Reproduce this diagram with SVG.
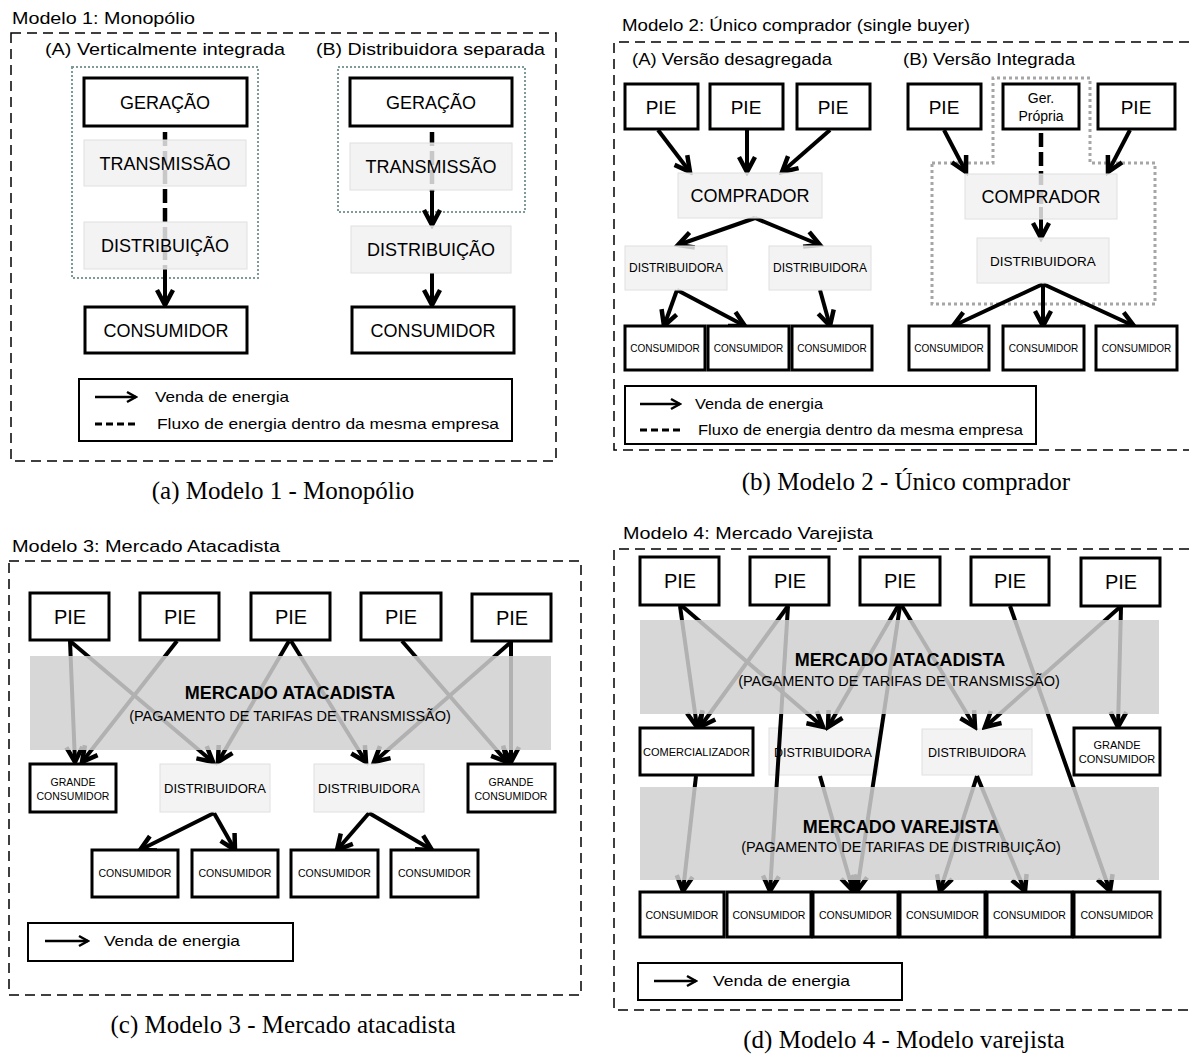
<svg xmlns="http://www.w3.org/2000/svg" width="1189" height="1054" viewBox="0 0 1189 1054">
<defs>
<style>
.t{font-family:"Liberation Sans",Arial,sans-serif;fill:#000}
.c{text-anchor:middle}
.b{font-weight:bold}
.cap{font-family:"Liberation Serif","Times New Roman",serif;font-size:25px;text-anchor:middle;fill:#000}
.box{fill:#fff;stroke:#000;stroke-width:3}
.lbox{fill:rgb(240,240,240);fill-opacity:.83;stroke:#e0e0e0;stroke-width:1}
.band{fill:rgb(208,208,208);fill-opacity:.85}
.leg{fill:#fff;stroke:#000;stroke-width:2}
.outer{fill:none;stroke:#000;stroke-width:1.5;stroke-dasharray:10 6}
.dot1{fill:none;stroke:#7f9a9a;stroke-width:2;stroke-dasharray:2 2}
.dot2{fill:none;stroke:#a6a6a6;stroke-width:3;stroke-dasharray:3 3}
.arr{fill:none;stroke:#000;stroke-width:4;marker-end:url(#ah)}
.dash{fill:none;stroke:#000;stroke-width:4.5;stroke-dasharray:14 5}
.larr{fill:none;stroke:#000;stroke-width:2.5;marker-end:url(#ahs)}
.ldash{fill:none;stroke:#000;stroke-width:3;stroke-dasharray:7 4}
</style>
<marker id="ah" viewBox="0 0 22 22" refX="18" refY="11" markerWidth="22" markerHeight="22" markerUnits="userSpaceOnUse" orient="auto">
<path d="M3,3 L18,11 L3,19" fill="none" stroke="#000" stroke-width="4.5"/>
</marker>
<marker id="ahs" viewBox="0 0 14 14" refX="12" refY="7" markerWidth="14" markerHeight="14" markerUnits="userSpaceOnUse" orient="auto">
<path d="M3,2 L12,7 L3,12" fill="none" stroke="#000" stroke-width="2.5"/>
</marker>
</defs>
<rect width="1189" height="1054" fill="#fff"/>

<!-- Frames and titles -->
<g id="frames">
<rect class="outer" x="11" y="33" width="545" height="428"/>
<path class="outer" d="M1189,42 H614 V450 H1189"/>
<rect class="outer" x="9" y="561" width="572" height="434"/>
<path class="outer" d="M1189,549 H614 V1010 H1189"/>
<rect class="dot1" x="72" y="67" width="186" height="211"/>
<rect class="dot1" x="338" y="67" width="187" height="145"/>
<path class="dot2" d="M932,163 H993 V78 H1090 V163 H1155 V304 H932 Z"/>
</g>
<g id="titles">
<text class="t" x="12" y="24" font-size="16" textLength="183" lengthAdjust="spacingAndGlyphs">Modelo 1: Monopólio</text>
<text class="t" x="45" y="55" font-size="17" textLength="240" lengthAdjust="spacingAndGlyphs">(A) Verticalmente integrada</text>
<text class="t" x="316" y="55" font-size="17" textLength="229" lengthAdjust="spacingAndGlyphs">(B) Distribuidora separada</text>
<text class="t" x="622" y="31" font-size="16" textLength="348" lengthAdjust="spacingAndGlyphs">Modelo 2: Único comprador (single buyer)</text>
<text class="t" x="632" y="65" font-size="17" textLength="200" lengthAdjust="spacingAndGlyphs">(A) Versão desagregada</text>
<text class="t" x="903" y="65" font-size="17" textLength="172" lengthAdjust="spacingAndGlyphs">(B) Versão Integrada</text>
<text class="t" x="12" y="552" font-size="16" textLength="268" lengthAdjust="spacingAndGlyphs">Modelo 3: Mercado Atacadista</text>
<text class="t" x="623" y="539" font-size="16" textLength="250" lengthAdjust="spacingAndGlyphs">Modelo 4: Mercado Varejista</text>
<text class="cap" x="283" y="499">(a) Modelo 1 - Monopólio</text>
<text class="cap" x="906" y="490">(b) Modelo 2 - Único comprador</text>
<text class="cap" x="283" y="1033">(c) Modelo 3 - Mercado atacadista</text>
<text class="cap" x="904" y="1048">(d) Modelo 4 - Modelo varejista</text>
</g>

<!-- Panel 4 light boxes (under connectors) -->
<g id="m4_dist_a"><rect class="lbox" x="769" y="728" width="109" height="47"/><text class="t c" x="823" y="756.5" font-size="12.5">DISTRIBUIDORA</text></g>
<g id="m4_dist_b"><rect class="lbox" x="922" y="729" width="110" height="46"/><text class="t c" x="977" y="756.5" font-size="12.5">DISTRIBUIDORA</text></g>

<!-- Connectors -->
<g id="connectors">
<!-- Model 1 -->
<path class="dash" d="M165,113 V269"/>
<path class="arr" d="M165,269 V305"/>
<path class="dash" d="M432,113 V192"/>
<path class="arr" d="M432,192 V225"/>
<path class="arr" d="M432,273 V305"/>
<!-- Model 2 -->
<path class="arr" d="M658,130 L690,172"/>
<path class="arr" d="M747,130 V172"/>
<path class="arr" d="M830,130 L782,172"/>
<path class="arr" d="M755,218 L678,245"/>
<path class="arr" d="M755,218 L820,245"/>
<path class="arr" d="M677,290 L664,326"/>
<path class="arr" d="M677,290 L745,326"/>
<path class="arr" d="M820,290 L830,326"/>
<path class="arr" d="M944,130 L966,172"/>
<path class="dash" d="M1041,133 V207"/>
<path class="arr" d="M1041,207 V238"/>
<path class="arr" d="M1130,130 L1108,172"/>
<path class="arr" d="M1043,284 L953,326"/>
<path class="arr" d="M1043,284 V326"/>
<path class="arr" d="M1043,284 L1134,326"/>
<!-- Model 3 -->
<path class="arr" d="M70,641 L75,762"/>
<path class="arr" d="M70,641 L213,762"/>
<path class="arr" d="M177,641 L82,762"/>
<path class="arr" d="M289,641 L218,762"/>
<path class="arr" d="M291,641 L366,762"/>
<path class="arr" d="M402,641 L507,762"/>
<path class="arr" d="M511,642 L374,762"/>
<path class="arr" d="M511,642 V762"/>
<path class="arr" d="M214,813 L140,850"/>
<path class="arr" d="M214,813 L235,850"/>
<path class="arr" d="M369,813 L337,850"/>
<path class="arr" d="M369,813 L432,850"/>
<!-- Model 4 -->
<path class="arr" d="M680,606 L697,727"/>
<path class="arr" d="M682,606 L823,727"/>
<path class="arr" d="M788,606 L700,727"/>
<path class="arr" d="M788,606 L770,891"/>
<path class="arr" d="M898,606 L828,727"/>
<path class="arr" d="M900,606 L857,891"/>
<path class="arr" d="M902,606 L975,727"/>
<path class="arr" d="M1010,606 L1110,891"/>
<path class="arr" d="M1120,607 L985,727"/>
<path class="arr" d="M1121,607 L1118,727"/>
<path class="arr" d="M696,776 L683,891"/>
<path class="arr" d="M820,776 L853,891"/>
<path class="arr" d="M977,776 L940,891"/>
<path class="arr" d="M977,776 L1025,891"/>
</g>

<!-- Model 1 nodes -->
<g id="m1_ger_a"><rect class="box" x="84" y="78" width="163" height="48"/><text class="t c" x="165" y="108.5" font-size="18">GERAÇÃO</text></g>
<g id="m1_tra_a"><rect class="lbox" x="84" y="140" width="162" height="46"/><text class="t c" x="165" y="169.5" font-size="18">TRANSMISSÃO</text></g>
<g id="m1_dis_a"><rect class="lbox" x="84" y="222" width="163" height="47"/><text class="t c" x="165" y="252" font-size="18">DISTRIBUIÇÃO</text></g>
<g id="m1_con_a"><rect class="box" x="85" y="307" width="162" height="46"/><text class="t c" x="166" y="336.5" font-size="18">CONSUMIDOR</text></g>
<g id="m1_ger_b"><rect class="box" x="350" y="78" width="162" height="48"/><text class="t c" x="431" y="108.5" font-size="18">GERAÇÃO</text></g>
<g id="m1_tra_b"><rect class="lbox" x="350" y="143" width="162" height="47"/><text class="t c" x="431" y="173" font-size="18">TRANSMISSÃO</text></g>
<g id="m1_dis_b"><rect class="lbox" x="351" y="226" width="160" height="47"/><text class="t c" x="431" y="256" font-size="18">DISTRIBUIÇÃO</text></g>
<g id="m1_con_b"><rect class="box" x="352" y="307" width="162" height="46"/><text class="t c" x="433" y="336.5" font-size="18">CONSUMIDOR</text></g>
<g id="m1_legend">
<rect class="leg" x="79" y="379" width="433" height="62"/>
<path class="larr" d="M95,397 H136"/>
<text class="t" x="155" y="402" font-size="14.5" textLength="134" lengthAdjust="spacingAndGlyphs">Venda de energia</text>
<path class="ldash" d="M95,424 H136"/>
<text class="t" x="157" y="429" font-size="14.5" textLength="342" lengthAdjust="spacingAndGlyphs">Fluxo de energia dentro da mesma empresa</text>
</g>

<!-- Model 2 nodes -->
<g id="m2_pie_a1"><rect class="box" x="625" y="84" width="73" height="45"/><text class="t c" x="661" y="113.5" font-size="19">PIE</text></g>
<g id="m2_pie_a2"><rect class="box" x="710" y="84" width="73" height="45"/><text class="t c" x="746" y="113.5" font-size="19">PIE</text></g>
<g id="m2_pie_a3"><rect class="box" x="797" y="84" width="73" height="45"/><text class="t c" x="833" y="113.5" font-size="19">PIE</text></g>
<g id="m2_comp_a"><rect class="lbox" x="678" y="173" width="144" height="45"/><text class="t c" x="750" y="202" font-size="18">COMPRADOR</text></g>
<g id="m2_dist_a1"><rect class="lbox" x="625" y="246" width="102" height="44"/><text class="t c" x="676" y="272" font-size="12">DISTRIBUIDORA</text></g>
<g id="m2_dist_a2"><rect class="lbox" x="769" y="246" width="102" height="44"/><text class="t c" x="820" y="272" font-size="12">DISTRIBUIDORA</text></g>
<g id="m2_cons_a1"><rect class="box" x="625" y="326" width="80" height="44"/><text class="t c" x="665" y="351.5" font-size="10">CONSUMIDOR</text></g>
<g id="m2_cons_a2"><rect class="box" x="708" y="326" width="81" height="44"/><text class="t c" x="748.5" y="351.5" font-size="10">CONSUMIDOR</text></g>
<g id="m2_cons_a3"><rect class="box" x="792" y="326" width="80" height="44"/><text class="t c" x="832" y="351.5" font-size="10">CONSUMIDOR</text></g>
<g id="m2_pie_b1"><rect class="box" x="908" y="84" width="73" height="45"/><text class="t c" x="944" y="113.5" font-size="19">PIE</text></g>
<g id="m2_ger_b"><rect class="box" x="1003" y="84" width="76" height="45"/><text class="t c" x="1041" y="103" font-size="14">Ger.</text><text class="t c" x="1041" y="121" font-size="14">Própria</text></g>
<g id="m2_pie_b3"><rect class="box" x="1098" y="84" width="77" height="45"/><text class="t c" x="1136" y="113.5" font-size="19">PIE</text></g>
<g id="m2_comp_b"><rect class="lbox" x="965" y="174" width="152" height="45"/><text class="t c" x="1041" y="203" font-size="18">COMPRADOR</text></g>
<g id="m2_dist_b"><rect class="lbox" x="977" y="238" width="132" height="45"/><text class="t c" x="1043" y="265.5" font-size="13.5">DISTRIBUIDORA</text></g>
<g id="m2_cons_b1"><rect class="box" x="909" y="326" width="80" height="44"/><text class="t c" x="949" y="351.5" font-size="10">CONSUMIDOR</text></g>
<g id="m2_cons_b2"><rect class="box" x="1003" y="326" width="81" height="44"/><text class="t c" x="1043.5" y="351.5" font-size="10">CONSUMIDOR</text></g>
<g id="m2_cons_b3"><rect class="box" x="1096" y="326" width="81" height="44"/><text class="t c" x="1136.5" y="351.5" font-size="10">CONSUMIDOR</text></g>
<g id="m2_legend">
<rect class="leg" x="625" y="386" width="411" height="58"/>
<path class="larr" d="M640,404 H680"/>
<text class="t" x="695" y="409" font-size="14.5" textLength="128" lengthAdjust="spacingAndGlyphs">Venda de energia</text>
<path class="ldash" d="M640,430 H680"/>
<text class="t" x="698" y="435" font-size="14.5" textLength="325" lengthAdjust="spacingAndGlyphs">Fluxo de energia dentro da mesma empresa</text>
</g>

<!-- Model 3 nodes -->
<g id="m3_pie1"><rect class="box" x="30" y="593" width="79" height="47"/><text class="t c" x="70" y="624" font-size="20">PIE</text></g>
<g id="m3_pie2"><rect class="box" x="140" y="593" width="79" height="47"/><text class="t c" x="180" y="624" font-size="20">PIE</text></g>
<g id="m3_pie3"><rect class="box" x="251" y="593" width="79" height="47"/><text class="t c" x="291" y="624" font-size="20">PIE</text></g>
<g id="m3_pie4"><rect class="box" x="361" y="593" width="80" height="47"/><text class="t c" x="401" y="624" font-size="20">PIE</text></g>
<g id="m3_pie5"><rect class="box" x="472" y="594" width="79" height="47"/><text class="t c" x="512" y="625" font-size="20">PIE</text></g>
<g id="m3_band"><rect class="band" x="30" y="656" width="521" height="94"/>
<text class="t c b" x="290" y="699" font-size="18">MERCADO ATACADISTA</text>
<text class="t c" x="290" y="721" font-size="14.5">(PAGAMENTO DE TARIFAS DE TRANSMISSÃO)</text></g>
<g id="m3_gc1"><rect class="box" x="30" y="764" width="86" height="48"/><text class="t c" x="73" y="786" font-size="10.5">GRANDE</text><text class="t c" x="73" y="800" font-size="10.5">CONSUMIDOR</text></g>
<g id="m3_dist_a"><rect class="lbox" x="160" y="764" width="110" height="48"/><text class="t c" x="215" y="793" font-size="13">DISTRIBUIDORA</text></g>
<g id="m3_dist_b"><rect class="lbox" x="314" y="764" width="110" height="48"/><text class="t c" x="369" y="793" font-size="13">DISTRIBUIDORA</text></g>
<g id="m3_gc2"><rect class="box" x="468" y="764" width="87" height="48"/><text class="t c" x="511" y="786" font-size="10.5">GRANDE</text><text class="t c" x="511" y="800" font-size="10.5">CONSUMIDOR</text></g>
<g id="m3_cons1"><rect class="box" x="92" y="850" width="86" height="47"/><text class="t c" x="135" y="877" font-size="10.5">CONSUMIDOR</text></g>
<g id="m3_cons2"><rect class="box" x="192" y="850" width="86" height="47"/><text class="t c" x="235" y="877" font-size="10.5">CONSUMIDOR</text></g>
<g id="m3_cons3"><rect class="box" x="291" y="850" width="87" height="47"/><text class="t c" x="334.5" y="877" font-size="10.5">CONSUMIDOR</text></g>
<g id="m3_cons4"><rect class="box" x="391" y="850" width="87" height="47"/><text class="t c" x="434.5" y="877" font-size="10.5">CONSUMIDOR</text></g>
<g id="m3_legend">
<rect class="leg" x="28" y="923" width="265" height="38"/>
<path class="larr" d="M45,941 H88"/>
<text class="t" x="104" y="946" font-size="14.5" textLength="136" lengthAdjust="spacingAndGlyphs">Venda de energia</text>
</g>

<!-- Model 4 nodes -->
<g id="m4_pie1"><rect class="box" x="640" y="557" width="79" height="48"/><text class="t c" x="680" y="588" font-size="20">PIE</text></g>
<g id="m4_pie2"><rect class="box" x="750" y="557" width="79" height="48"/><text class="t c" x="790" y="588" font-size="20">PIE</text></g>
<g id="m4_pie3"><rect class="box" x="860" y="557" width="80" height="48"/><text class="t c" x="900" y="588" font-size="20">PIE</text></g>
<g id="m4_pie4"><rect class="box" x="971" y="557" width="78" height="48"/><text class="t c" x="1010" y="588" font-size="20">PIE</text></g>
<g id="m4_pie5"><rect class="box" x="1081" y="558" width="79" height="48"/><text class="t c" x="1121" y="589" font-size="20">PIE</text></g>
<g id="m4_band_a"><rect class="band" x="640" y="620" width="519" height="94"/>
<text class="t c b" x="900" y="666" font-size="18">MERCADO ATACADISTA</text>
<text class="t c" x="899" y="686" font-size="14.5">(PAGAMENTO DE TARIFAS DE TRANSMISSÃO)</text></g>
<g id="m4_com"><rect class="box" x="640" y="728" width="113" height="47"/><text class="t c" x="696.5" y="756" font-size="11">COMERCIALIZADOR</text></g>
<g id="m4_gc"><rect class="box" x="1074" y="728" width="86" height="47"/><text class="t c" x="1117" y="749" font-size="11">GRANDE</text><text class="t c" x="1117" y="763" font-size="11">CONSUMIDOR</text></g>
<g id="m4_band_v"><rect class="band" x="640" y="787" width="519" height="93"/>
<text class="t c b" x="901" y="833" font-size="18">MERCADO VAREJISTA</text>
<text class="t c" x="901" y="852" font-size="14.5">(PAGAMENTO DE TARIFAS DE DISTRIBUIÇÃO)</text></g>
<g id="m4_cons1"><rect class="box" x="640" y="892" width="84" height="45"/><text class="t c" x="682" y="918.5" font-size="10.5">CONSUMIDOR</text></g>
<g id="m4_cons2"><rect class="box" x="727" y="892" width="84" height="45"/><text class="t c" x="769" y="918.5" font-size="10.5">CONSUMIDOR</text></g>
<g id="m4_cons3"><rect class="box" x="813" y="892" width="85" height="45"/><text class="t c" x="855.5" y="918.5" font-size="10.5">CONSUMIDOR</text></g>
<g id="m4_cons4"><rect class="box" x="900" y="892" width="85" height="45"/><text class="t c" x="942.5" y="918.5" font-size="10.5">CONSUMIDOR</text></g>
<g id="m4_cons5"><rect class="box" x="987" y="892" width="85" height="45"/><text class="t c" x="1029.5" y="918.5" font-size="10.5">CONSUMIDOR</text></g>
<g id="m4_cons6"><rect class="box" x="1074" y="892" width="86" height="45"/><text class="t c" x="1117" y="918.5" font-size="10.5">CONSUMIDOR</text></g>
<g id="m4_legend">
<rect class="leg" x="638" y="963" width="264" height="37"/>
<path class="larr" d="M654,981 H696"/>
<text class="t" x="713" y="986" font-size="14.5" textLength="137" lengthAdjust="spacingAndGlyphs">Venda de energia</text>
</g>
</svg>
